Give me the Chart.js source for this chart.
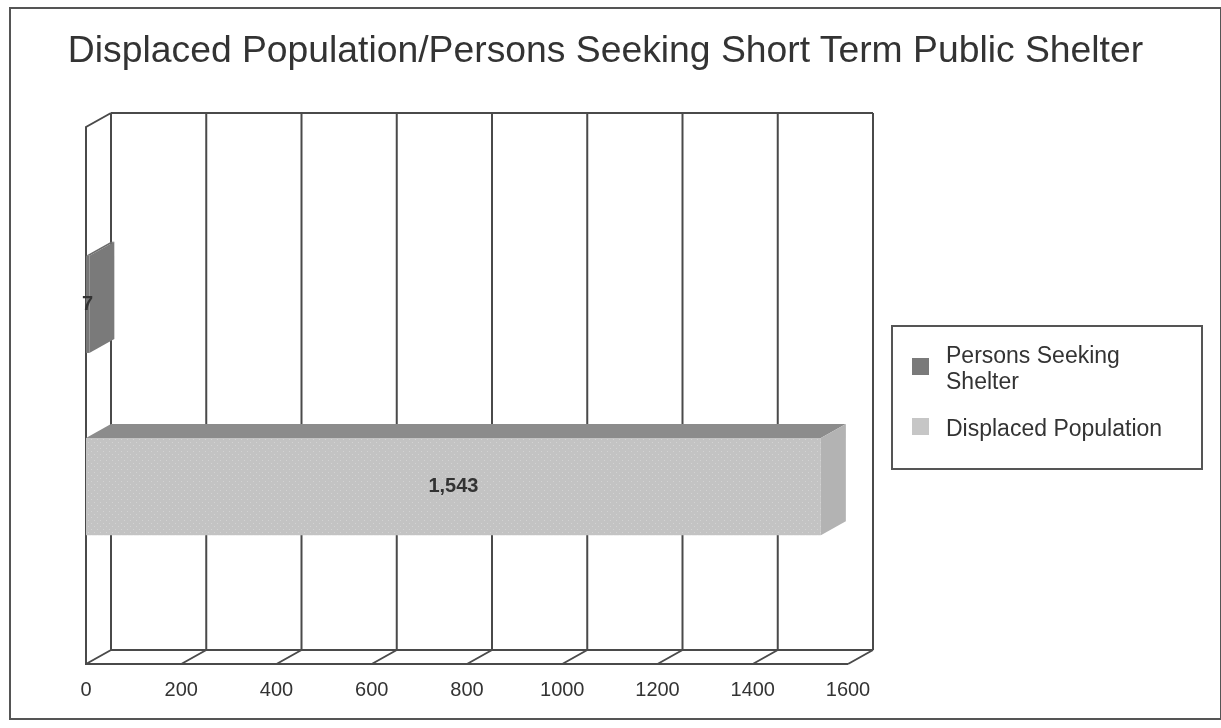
<!DOCTYPE html>
<html lang="en">
  <head>
    <meta charset="UTF-8" />
    <meta name="viewport" content="width=device-width, initial-scale=1.0" />
    <script src="https://cdn.jsdelivr.net/npm/chart.js@4.4.0/dist/chart.umd.min.js"></script>
    <title>Displaced Population/Persons Seeking Short Term Public Shelter</title>
    <style>
      body {
        margin: 0;
        padding: 0;
        background: #fff;
        font-family: 'Liberation Sans', Arial, sans-serif;
      }

      .frame {
        position: relative;
        width: 1221px;
        height: 728px;
        overflow: hidden;
      }

      .frame canvas {
        position: absolute;
        left: 0;
        top: 0;
      }

      .outline {
        position: absolute;
        left: 9px;
        top: 7px;
        width: 1209px;
        height: 709px;
        border: 2px solid #555;
      }

      .title {
        position: absolute;
        left: 0;
        top: 31px;
        width: 1211px;
        text-align: center;
        font-size: 37.3px;
        line-height: 37px;
        color: #333;
        white-space: nowrap;
      }

      .legend {
        position: absolute;
        left: 891px;
        top: 325px;
        width: 308px;
        height: 141px;
        border: 2px solid #555;
        background: #fff;
        color: #333;
        font-size: 23px;
        line-height: 26px;
      }

      .legend .key {
        position: absolute;
        left: 19px;
        width: 17px;
        height: 17px;
      }

      .legend .text {
        position: absolute;
        left: 53px;
        width: 240px;
      }
    </style>
  </head>
  <body>
    <div class="frame">
      <canvas id="shelterChart" width="1221" height="728"></canvas>
      <div class="outline"></div>
      <div class="title">Displaced Population/Persons Seeking Short Term Public Shelter</div>
      <div class="legend" id="legend"></div>
    </div>
    <script>
      // one category, one bar per series
      const categories = ['']
      const seriesNames = ['Persons Seeking Shelter', 'Displaced Population']
      const shelterValues = [7]
      const displacedValues = [1543]
      const xTickValues = [0, 200, 400, 600, 800, 1000, 1200, 1400, 1600]

      // depth of the fake 3d box
      const DX = 25
      const DY = -14

      const dotPattern = (base, dot) => {
        const c = document.createElement('canvas')
        c.width = 6
        c.height = 6
        const g = c.getContext('2d')
        g.fillStyle = base
        g.fillRect(0, 0, 6, 6)
        g.fillStyle = dot
        g.fillRect(1, 1, 1, 1)
        g.fillRect(4, 4, 1, 1)
        return g.createPattern(c, 'repeat')
      }

      const shades = [
        { front: '#777777', top: '#6c6c6c', side: '#7a7a7a', key: '#7a7a7a' },
        { front: dotPattern('#c3c3c3', '#d3d3d3'), top: '#8c8c8c', side: '#b3b3b3', key: '#c6c6c6' },
      ]

      const box3d = {
        id: 'box3d',
        beforeDatasetsDraw(chart) {
          const { ctx, chartArea: a, scales } = chart
          const x = scales.x
          ctx.save()
          ctx.strokeStyle = '#4a4a4a'
          ctx.lineWidth = 2
          ctx.beginPath()
          x.ticks.forEach((t) => {
            const px = x.getPixelForValue(t.value)
            // back wall line
            ctx.moveTo(px + DX, a.top + DY)
            ctx.lineTo(px + DX, a.bottom + DY)
            // floor diagonal
            ctx.moveTo(px, a.bottom)
            ctx.lineTo(px + DX, a.bottom + DY)
          })
          ctx.moveTo(a.left + DX, a.top + DY)
          ctx.lineTo(a.right + DX, a.top + DY)
          ctx.moveTo(a.left + DX, a.bottom + DY)
          ctx.lineTo(a.right + DX, a.bottom + DY)
          ctx.moveTo(a.right, a.bottom)
          ctx.lineTo(a.left, a.bottom)
          ctx.lineTo(a.left, a.top)
          ctx.lineTo(a.left + DX, a.top + DY)
          ctx.stroke()
          ctx.restore()
        },
        afterDatasetsDraw(chart) {
          const ctx = chart.ctx
          ctx.save()
          chart.data.datasets.forEach((ds, i) => {
            const s = shades[i]
            chart.getDatasetMeta(i).data.forEach((bar, j) => {
              const { x, y, base, height } = bar.getProps(['x', 'y', 'base', 'height'], true)
              const top = y - height / 2
              const bottom = y + height / 2
              ctx.fillStyle = s.top
              ctx.beginPath()
              ctx.moveTo(base, top)
              ctx.lineTo(x, top)
              ctx.lineTo(x + DX, top + DY)
              ctx.lineTo(base + DX, top + DY)
              ctx.closePath()
              ctx.fill()
              ctx.fillStyle = s.side
              ctx.beginPath()
              ctx.moveTo(x, top)
              ctx.lineTo(x + DX, top + DY)
              ctx.lineTo(x + DX, bottom + DY)
              ctx.lineTo(x, bottom)
              ctx.closePath()
              ctx.fill()

              ctx.fillStyle = '#333'
              ctx.font = 'bold 20px "Liberation Sans", Arial, sans-serif'
              ctx.textAlign = 'center'
              ctx.textBaseline = 'middle'
              ctx.fillText(ds.data[j].toLocaleString('en-US'), (base + x) / 2, y)
            })
          })
          ctx.restore()
        },
      }

      const legendEl = document.getElementById('legend')
      const keyTops = [31, 91]
      const textTops = [15, 88]
      seriesNames.forEach((name, i) => {
        const key = document.createElement('div')
        key.className = 'key'
        key.style.top = keyTops[i] + 'px'
        key.style.background = shades[i].key
        legendEl.appendChild(key)
        const text = document.createElement('div')
        text.className = 'text'
        text.style.top = textTops[i] + 'px'
        text.textContent = name
        legendEl.appendChild(text)
      })

      const ctx = document.getElementById('shelterChart').getContext('2d')
      const chart = new Chart(ctx, {
        type: 'bar',
        data: {
          labels: categories,
          datasets: [
            { label: seriesNames[0], data: shelterValues, backgroundColor: shades[0].front },
            { label: seriesNames[1], data: displacedValues, backgroundColor: shades[1].front },
          ],
        },
        options: {
          responsive: false,
          animation: false,
          indexAxis: 'y',
          datasets: {
            bar: {
              categoryPercentage: 0.679,
              barPercentage: 0.533,
              borderWidth: 0,
            },
          },
          layout: {
            padding: { left: 86, right: 373, top: 127, bottom: 12 },
          },
          plugins: {
            legend: { display: false },
            title: { display: false },
            tooltip: { enabled: false },
          },
          scales: {
            x: {
              min: 0,
              max: 1600,
              afterBuildTicks: (axis) => {
                axis.ticks = xTickValues.map((v) => ({ value: v }))
              },
              grid: { display: false, drawTicks: false },
              border: { display: false },
              ticks: {
                padding: 14,
                color: '#333',
                font: { family: 'Liberation Sans', size: 20 },
                callback: (value) => String(value),
              },
            },
            y: { display: false },
          },
        },
        plugins: [box3d],
      })
    </script>
  </body>
</html>
